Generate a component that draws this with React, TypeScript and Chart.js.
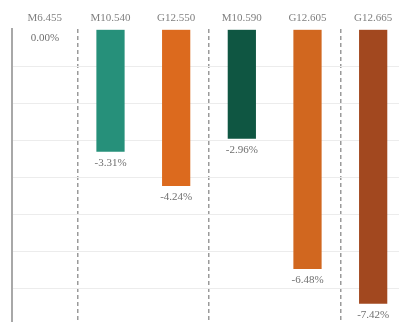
import React, { useEffect, useRef } from "react";
import { Chart, registerables } from "chart.js";

Chart.register(...registerables);

const categories = ["M6.455", "M10.540", "G12.550", "M10.590", "G12.605", "G12.665"];
const values = [0, -3.31, -4.24, -2.96, -6.48, -7.42];
const barColors = ["#888888", "#26907a", "#dc6a1e", "#0f5642", "#d1671f", "#a2481f"];
const groupBoundaries = [1, 3, 5];

const FONT = "'Liberation Serif', 'DejaVu Serif', serif";

const labelPlugin = {
  id: "valueLabels",
  afterDatasetsDraw(chart: any) {
    const { ctx } = chart;
    const meta = chart.getDatasetMeta(0);
    ctx.save();
    ctx.font = `11px ${FONT}`;
    ctx.fillStyle = "#6f6f6f";
    ctx.textAlign = "center";
    ctx.textBaseline = "top";
    meta.data.forEach((bar: any, i: number) => {
      const v = values[i];
      ctx.fillText(v.toFixed(2) + "%", bar.x, bar.y + (v === 0 ? 3 : 6));
    });
    ctx.restore();
  },
};

export default function App() {
  const ref = useRef<HTMLCanvasElement>(null);
  useEffect(() => {
    if (!ref.current) return;
    const chart = new Chart(ref.current, {
      type: "bar",
      data: {
        labels: categories,
        datasets: [
          {
            data: values,
            backgroundColor: barColors,
            borderWidth: 0,
            categoryPercentage: 1,
            barPercentage: 0.43,
          },
        ],
      },
      options: {
        animation: false,
        responsive: false,
        maintainAspectRatio: false,
        layout: { padding: { left: 12, right: 0, top: 8, bottom: 1.5 } },
        plugins: { legend: { display: false }, tooltip: { enabled: false } },
        scales: {
          x: {
            position: "top",
            offset: true,
            grid: {
              offset: true,
              drawTicks: false,
              lineWidth: 1.5,
              color: (c: any) => (groupBoundaries.includes(c.index) ? "#9a9a9a" : "rgba(0,0,0,0)"),
            },
            border: { display: false, dash: [4, 3] },
            ticks: {
              color: "#808080",
              padding: 4,
              font: { family: FONT, size: 11 },
            },
          },
          y: {
            min: -7.9,
            max: 0,
            ticks: { display: false, stepSize: 1 },
            grid: {
              drawTicks: false,
              color: (c: any) =>
                c.tick && Number.isInteger(Math.round(c.tick.value * 1000) / 1000) && c.tick.value !== 0
                  ? "#ececec"
                  : "rgba(0,0,0,0)",
            },
            border: { display: true, color: "#a8a8a8", width: 2 },
          },
        },
      },
      plugins: [labelPlugin],
    });
    return () => chart.destroy();
  }, []);

  return (
    <div
      style={{
        position: "fixed",
        left: 0,
        top: 0,
        width: 399,
        height: 323,
        overflow: "hidden",
        background: "#fff",
      }}
    >
      <canvas ref={ref} width={406} height={323} style={{ display: "block" }} />
    </div>
  );
}
